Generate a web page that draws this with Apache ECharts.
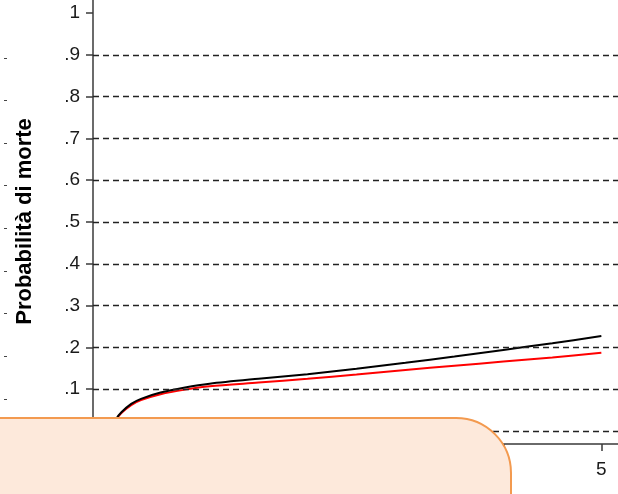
<!DOCTYPE html>
<html>
<head>
<meta charset="utf-8">
<script src="https://cdn.jsdelivr.net/npm/echarts@6/dist/echarts.min.js"></script>
<style>
  html, body { margin: 0; padding: 0; background: #fff; }
  #chart { width: 618px; height: 494px; }
</style>
</head>
<body>
<div id="chart"></div>
<script>
// time (years) and probability of death for the two curves
const xValues = [0, 0.05, 0.1, 0.2, 0.3, 0.5, 0.75, 1, 1.5, 2, 2.5, 3, 3.5, 4, 4.5, 5];
const blackValues = [0, 0.03, 0.045, 0.065, 0.077, 0.092, 0.104, 0.113, 0.125, 0.136, 0.149, 0.163, 0.178, 0.194, 0.21, 0.227];
const redValues = [0, 0.028, 0.043, 0.062, 0.074, 0.088, 0.099, 0.107, 0.116, 0.125, 0.135, 0.146, 0.156, 0.166, 0.176, 0.187];

const yTicks = [0, 0.1, 0.2, 0.3, 0.4, 0.5, 0.6, 0.7, 0.8, 0.9, 1];
const yTickLabels = ['0', '.1', '.2', '.3', '.4', '.5', '.6', '.7', '.8', '.9', '1'];
const gridValues = [0, 0.1, 0.2, 0.3, 0.4, 0.5, 0.6, 0.7, 0.8, 0.9];
const xTicks = [0, 1, 2, 3, 4, 5];
// stray tick marks of the neighbouring (cropped) panel on the far left
const strayTicks = [2, 3, 4, 5, 6, 7, 8, 9, 10];

const font = '"Liberation Sans", Arial, sans-serif';
const axisColor = '#3a3a3a';

function pairs(ys) {
  return xValues.map((x, i) => [x, ys[i]]);
}

const chart = echarts.init(document.getElementById('chart'));

chart.setOption({
  animation: false,
  backgroundColor: '#fff',
  grid: { left: 93, right: 0, top: 0, bottom: 63 },
  xAxis: {
    type: 'value',
    min: -0.19,
    max: 5.17,
    offset: 13,
    axisLine: { show: true, onZero: false, lineStyle: { color: axisColor, width: 1.5 } },
    axisTick: { show: true, length: 7, customValues: xTicks, lineStyle: { color: axisColor, width: 1.5 } },
    axisLabel: {
      customValues: xTicks,
      margin: 16,
      color: '#1a1a1a',
      fontFamily: font,
      fontSize: 19
    },
    splitLine: { show: false }
  },
  yAxis: [
    {
      type: 'value',
      min: 0,
      max: 1.031,
      name: 'Probabilità di morte',
      nameLocation: 'middle',
      nameGap: 57,
      nameRotate: 90,
      nameTextStyle: {
        fontFamily: font,
        fontSize: 22,
        fontWeight: 'bold',
        color: '#000',
        padding: [0, 12, 0, 0]
      },
      axisLine: { show: true, onZero: false, lineStyle: { color: axisColor, width: 1.5 } },
      axisTick: { show: true, length: 7, customValues: yTicks, lineStyle: { color: axisColor, width: 1.5 } },
      axisLabel: {
        customValues: yTicks,
        margin: 13,
        color: '#1a1a1a',
        fontFamily: font,
        fontSize: 19,
        formatter: (v) => {
          const i = yTicks.findIndex((t) => Math.abs(t - v) < 1e-6);
          return i >= 0 ? yTickLabels[i] : '';
        }
      },
      splitLine: { show: false }
    },
    {
      type: 'value',
      position: 'left',
      offset: 86,
      min: 1.243,
      max: 11.36,
      axisLine: { show: false, onZero: false },
      axisTick: { show: true, length: 3, customValues: strayTicks, lineStyle: { color: '#444' } },
      axisLabel: { show: false },
      splitLine: { show: false }
    }
  ],
  series: [
    {
      name: 'grid',
      type: 'line',
      data: [],
      z: 1,
      markLine: {
        silent: true,
        symbol: ['none', 'none'],
        label: { show: false },
        lineStyle: { color: '#222', width: 1.3, type: [6, 4] },
        data: gridValues.map((v) => ({ yAxis: v }))
      }
    },
    {
      name: 'red',
      type: 'line',
      data: pairs(redValues),
      smooth: 0.3,
      showSymbol: false,
      z: 3,
      lineStyle: { color: '#ff0000', width: 2 }
    },
    {
      name: 'black',
      type: 'line',
      data: pairs(blackValues),
      smooth: 0.3,
      showSymbol: false,
      z: 4,
      lineStyle: { color: '#000', width: 2 }
    }
  ],
  graphic: [
    {
      type: 'rect',
      z: 100,
      shape: { x: -60, y: 418, width: 571, height: 140, r: 55 },
      style: { fill: '#fde9db', stroke: '#f39a4f', lineWidth: 2 }
    }
  ]
});
</script>
</body>
</html>
